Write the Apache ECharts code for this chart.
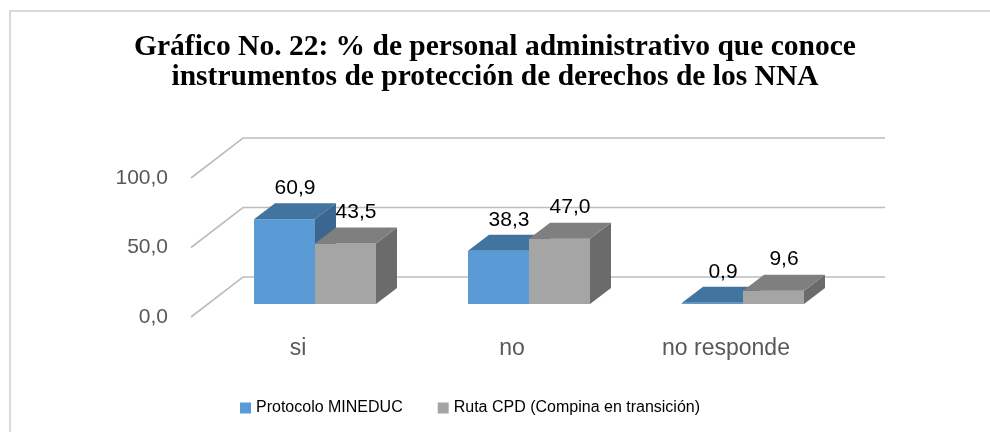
<!DOCTYPE html>
<html>
<head>
<meta charset="utf-8">
<script src="https://cdn.jsdelivr.net/npm/echarts@6/dist/echarts.min.js"></script>
<style>
  html, body { margin: 0; padding: 0; background: #fff; }
  #chart { width: 990px; height: 432px; }
</style>
</head>
<body>
<div id="chart"></div>
<script>
// datos del gráfico
const categories = ['si', 'no', 'no responde']
const protocolo = [60.9, 38.3, 0.9]
const ruta = [43.5, 47.0, 9.6]
const yTicks = [0, 50, 100]

const FONT = '"Liberation Sans", Arial, sans-serif'
// profundidad de la pared (oblicua) y de las barras
const WALL = [52, -40]
const BAR_FRONT = [17, -13]
const BAR_DEPTH = [21, -16]

const fmt = v => v.toFixed(1).replace('.', ',')

// paredes: lineas de division en la pared izquierda y del fondo
function renderWalls(params, api) {
  const cs = params.coordSys
  const v = api.value(1)
  const y = api.coord([0, v])[1]
  const x0 = cs.x, x1 = cs.x + cs.width
  return {
    type: 'polyline',
    shape: { points: [[x0, y], [x0 + WALL[0], y + WALL[1]], [x1 + WALL[0], y + WALL[1]]] },
    style: { stroke: '#bdbdbd', lineWidth: 1.6, fill: null },
    silent: true
  }
}

function makeBar(side, front, topC, sideC) {
  return function (params, api) {
    const ci = api.value(0)
    const v = api.value(1)
    const top = api.coord([ci, v])
    const base = api.coord([ci, 0])
    const band = api.size([1, 0])[0]
    const w = band * 0.285
    const x = top[0] - w + side * w + BAR_FRONT[0]
    const yt = top[1] + BAR_FRONT[1]
    const yb = base[1] + BAR_FRONT[1]
    const dx = BAR_DEPTH[0], dy = BAR_DEPTH[1]
    return {
      type: 'group',
      children: [
        { type: 'polygon', shape: { points: [[x + w, yt], [x + w + dx, yt + dy], [x + w + dx, yb + dy], [x + w, yb]] }, style: { fill: sideC } },
        { type: 'rect', shape: { x: x, y: yt, width: w, height: Math.max(yb - yt, 0.8) }, style: { fill: front } },
        { type: 'polygon', shape: { points: [[x, yt], [x + w, yt], [x + w + dx, yt + dy], [x + dx, yt + dy]] }, style: { fill: topC } },
        {
          type: 'text',
          style: {
            text: fmt(v), x: x + w / 2 + dx / 2, y: yt + dy / 2 - 23,
            align: 'center', verticalAlign: 'middle',
            fill: '#000', fontSize: 21, fontFamily: FONT
          }
        }
      ]
    }
  }
}

const chart = echarts.init(document.getElementById('chart'))
const option = {
  backgroundColor: '#fff',
  animation: false,
  title: {
    text: 'Gráfico No. 22: % de personal administrativo que conoce\ninstrumentos de protección de derechos de los NNA',
    left: 'center',
    top: 27,
    textStyle: {
      fontFamily: '"Liberation Serif", "Times New Roman", serif',
      fontWeight: 'bold',
      fontSize: 29.5,
      lineHeight: 30,
      color: '#000'
    }
  },
  legend: {
    top: 395,
    left: 235,
    itemWidth: 11,
    itemHeight: 11,
    itemGap: 35,
    icon: 'rect',
    textStyle: { fontFamily: FONT, fontSize: 16, color: '#000' },
    data: ['Protocolo MINEDUC', 'Ruta CPD (Compina en transición)']
  },
  graphic: [{
    type: 'rect',
    shape: { x: 10, y: 11, width: 1000, height: 450 },
    style: { fill: null, stroke: '#d9d9d9', lineWidth: 2 },
    silent: true
  }],
  grid: { left: 191, right: 157, top: 178, bottom: 115 },
  xAxis: {
    type: 'category',
    data: categories,
    axisLine: { show: false },
    axisTick: { show: false },
    axisLabel: { margin: 20, fontFamily: FONT, fontSize: 23, color: '#595959' }
  },
  yAxis: {
    type: 'value',
    min: 0,
    max: 100,
    interval: 50,
    splitLine: { show: false },
    axisLine: { show: false },
    axisTick: { show: false },
    axisLabel: { margin: 23, fontFamily: FONT, fontSize: 21, color: '#595959', formatter: fmt }
  },
  series: [
    {
      type: 'custom',
      name: 'walls',
      renderItem: renderWalls,
      data: yTicks.map(v => [0, v]),
      silent: true,
      z: 1
    },
    {
      type: 'custom',
      name: 'Protocolo MINEDUC',
      itemStyle: { color: '#5B9BD5' },
      renderItem: makeBar(0, '#5B9BD5', '#4274A0', '#3A6690'),
      data: protocolo.map((v, i) => [i, v]),
      z: 2
    },
    {
      type: 'custom',
      name: 'Ruta CPD (Compina en transición)',
      itemStyle: { color: '#A5A5A5' },
      renderItem: makeBar(1, '#A5A5A5', '#7F7F7F', '#6B6B6B'),
      data: ruta.map((v, i) => [i, v]),
      z: 3
    }
  ]
}
chart.setOption(option)
</script>
</body>
</html>
